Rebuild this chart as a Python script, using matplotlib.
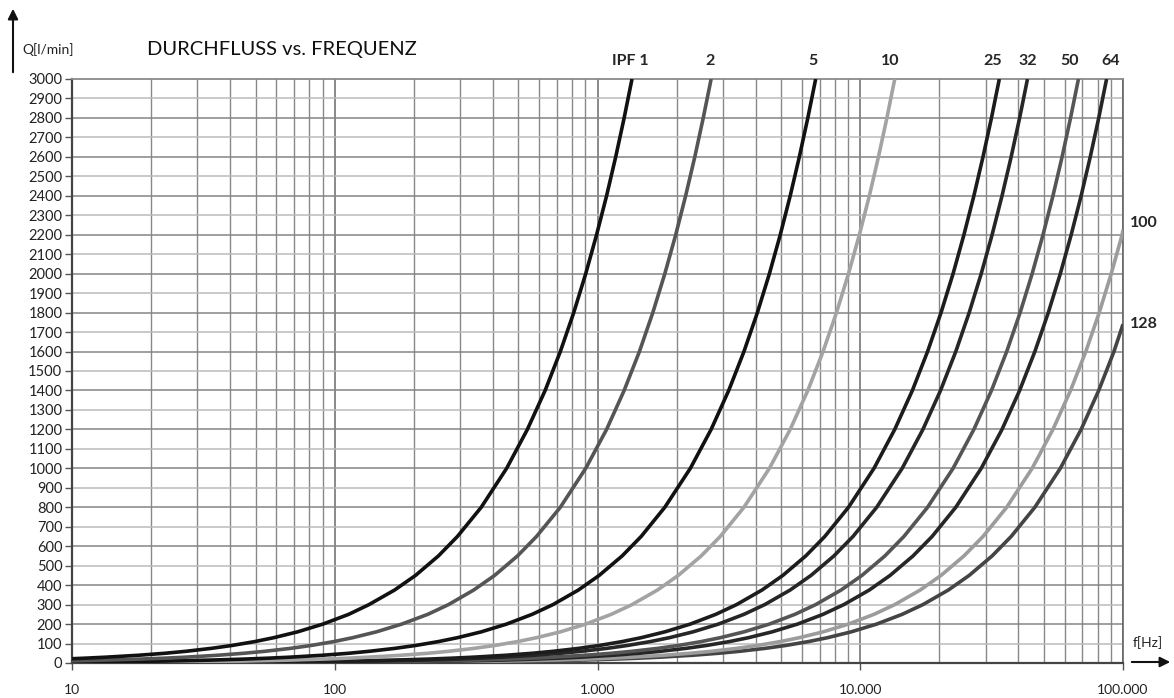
import matplotlib
matplotlib.use('Agg')
import matplotlib.pyplot as plt
from matplotlib.patches import FancyArrowPatch
from matplotlib.ticker import FixedLocator, NullFormatter

plt.rcParams['font.family'] = ['Lato', 'DejaVu Sans']

# flow levels [l/min] at which the crossing frequency of each curve was read
Q_LEVELS = [5, 10, 15, 20, 25, 30, 40, 50, 60, 75, 90, 110, 130, 160, 200, 250,
            300, 375, 450, 550, 650, 800, 1000, 1200, 1400, 1600, 1800, 2000,
            2200, 2400, 2600, 2800, 3000]

# crossing frequencies [Hz] per curve, None = level not reached inside the chart
f_ipf1 = [None, None, None, None, 11.3, 13.5, 18.0, 22.6, 27.1, 33.8, 40.6, 49.6,
          58.6, 72.2, 90.2, 113, 135, 169, 203, 248, 293, 361, 451, 541, 632, 722,
          812, 902, 992, 1083, 1173, 1263, 1353]
f_ipf2 = [None, None, 13.5, 18.0, 22.6, 27.1, 36.1, 45.1, 54.1, 67.7, 81.2, 99.2,
          117, 144, 180, 226, 271, 338, 406, 496, 586, 722, 902, 1083, 1263, 1444,
          1624, 1804, 1985, 2165, 2346, 2526, 2707]
f_ipf5 = [11.3, 22.6, 33.8, 45.1, 56.4, 67.7, 90.2, 113, 135, 169, 203, 248, 293,
          361, 451, 564, 677, 846, 1015, 1241, 1466, 1804, 2256, 2707, 3158, 3609,
          4060, 4511, 4962, 5413, 5864, 6316, 6767]
f_ipf10 = [22.6, 45.1, 67.7, 90.2, 113, 135, 180, 226, 271, 338, 406, 496, 586,
           722, 902, 1128, 1353, 1692, 2030, 2481, 2932, 3609, 4511, 5413, 6316,
           7218, 8120, 9022, 9924, 10830, 11730, 12630, 13530]
f_ipf25 = [56.4, 113, 169, 226, 282, 338, 451, 564, 677, 846, 1015, 1241, 1466,
           1804, 2256, 2820, 3383, 4229, 5075, 6203, 7330, 9022, 11280, 13530,
           15790, 18040, 20300, 22560, 24810, 27070, 29320, 31580, 33830]
f_ipf32 = [72.2, 144, 217, 289, 361, 433, 577, 722, 866, 1083, 1299, 1588, 1877,
           2310, 2887, 3609, 4331, 5413, 6496, 7939, 9383, 11550, 14440, 17320,
           20210, 23100, 25980, 28870, 31760, 34640, 37530, 40420, 43300]
f_ipf50 = [113, 226, 338, 451, 564, 677, 902, 1128, 1353, 1692, 2030, 2481, 2932,
           3609, 4511, 5639, 6767, 8458, 10150, 12410, 14660, 18040, 22560, 27070,
           31580, 36090, 40600, 45110, 49620, 54130, 58640, 63150, 67670]
f_ipf64 = [144, 289, 433, 577, 722, 866, 1155, 1444, 1732, 2165, 2598, 3176, 3753,
           4619, 5774, 7218, 8661, 10830, 12990, 15880, 18770, 23100, 28870, 34640,
           40420, 46190, 51970, 57740, 63510, 69290, 75060, 80840, 86610]
f_ipf100 = [226, 451, 677, 902, 1128, 1353, 1804, 2256, 2707, 3383, 4060, 4962,
            5864, 7218, 9022, 11280, 13530, 16920, 20300, 24810, 29320, 36090,
            45110, 54130, 63150, 72180, 81200, 90220, 99240, None, None, None, None]
f_ipf128 = [289, 577, 866, 1155, 1444, 1732, 2310, 2887, 3464, 4331, 5197, 6351,
            7506, 9238, 11550, 14440, 17320, 21650, 25980, 31760, 37530, 46190,
            57740, 69290, 80840, 92380, None, None, None, None, None, None, None]

# flow at the left edge (10 Hz) and at the right edge (100 kHz)
q_at_10hz = [22, 11, 4.4, 2.2, 0.9, 0.7, 0.45, 0.35, 0.22, 0.17]
q_at_100khz = [None, None, None, None, None, None, None, None, 2225, 1740]

curve_names = ['IPF 1', '2', '5', '10', '25', '32', '50', '64', '100', '128']
crossings = [f_ipf1, f_ipf2, f_ipf5, f_ipf10, f_ipf25, f_ipf32,
             f_ipf50, f_ipf64, f_ipf100, f_ipf128]
colors = ['#111111', '#555555', '#111111', '#a3a3a3', '#1c1c1c', '#262626',
          '#555555', '#262626', '#9c9c9c', '#444444']

W, H = 1174, 698
fig = plt.figure(figsize=(W / 100, H / 100), dpi=100)
ax = fig.add_axes([72 / W, 1 - 663 / H, (1123 - 72) / W, (663 - 79) / H])


def px(x, y):
    return (x / W, 1 - y / H)


ax.set_xscale('log')
ax.set_xlim(10, 100000)
ax.set_ylim(0, 3000)

# horizontal grid, every other line a bit darker
for q in range(100, 3000, 100):
    c = '#858585' if (q // 100) % 2 == 0 else '#bababa'
    ax.axhline(q, color=c, lw=1.1, zorder=1)

ax.xaxis.set_major_locator(FixedLocator([10, 100, 1000, 10000, 100000]))
ax.xaxis.set_minor_locator(FixedLocator([m * d for d in [10, 100, 1000, 10000] for m in range(2, 10)]))
ax.xaxis.set_minor_formatter(NullFormatter())
ax.grid(True, which='major', axis='x', color='#6a6a6a', lw=1.1, zorder=1)
ax.grid(True, which='minor', axis='x', color='#888888', lw=1.0, zorder=1)
ax.set_axisbelow(True)

ax.set_xticks([10, 100, 1000, 10000, 100000])
ax.set_xticklabels(['10', '100', '1.000', '10.000', '100.000'])
ax.set_yticks(range(0, 3001, 100))
ax.set_yticklabels([str(v) for v in range(0, 3001, 100)])
ax.tick_params(axis='y', labelsize=10.5, length=5, width=1, color='#555555', pad=2, colors='#222222')
ax.tick_params(axis='x', which='major', labelsize=10, length=5, width=1, color='#555555', pad=10, colors='#222222')
ax.tick_params(axis='x', which='minor', length=0)

for s in ['left', 'bottom']:
    ax.spines[s].set_color('#444444')
    ax.spines[s].set_linewidth(1.6)
ax.spines['top'].set_color('#8a8a8a')
ax.spines['top'].set_linewidth(1.3)
ax.spines['right'].set_color('#666666')
ax.spines['right'].set_linewidth(1.2)

# curves, the lower numbers drawn on top
for i in reversed(range(len(curve_names))):
    fs = [10]
    qs = [q_at_10hz[i]]
    for f, q in zip(crossings[i], Q_LEVELS):
        if f is not None and f > 10:
            fs.append(f)
            qs.append(q)
    if q_at_100khz[i] is not None:
        fs.append(100000)
        qs.append(q_at_100khz[i])
    ax.plot(fs, qs, color=colors[i], lw=2.6, solid_capstyle='butt',
            solid_joinstyle='round', zorder=3 + (10 - i))

# curve names above the chart and at the right edge
top_label_x = [630, 710, 813, 890, 993, 1028, 1070, 1111]
for name, x in zip(curve_names[:8], top_label_x):
    fig.text(*px(x, 61), name, ha='center', va='center', fontsize=11.5,
             fontweight='bold', color='#262626')
fig.text(*px(1130, 223), '100', ha='left', va='center', fontsize=11.5, fontweight='bold', color='#262626')
fig.text(*px(1130, 324), '128', ha='left', va='center', fontsize=11.5, fontweight='bold', color='#262626')

fig.text(*px(147, 50), 'DURCHFLUSS vs. FREQUENZ', ha='left', va='center', fontsize=14.5, color='#111111')
fig.text(*px(22, 50), 'Q[l/min]', ha='left', va='center', fontsize=10, color='#222222')
fig.text(*px(1148, 643), 'f[Hz]', ha='center', va='center', fontsize=10, color='#222222')

# axis arrows
fig.add_artist(FancyArrowPatch(px(13, 75), px(13, 6), transform=fig.transFigure,
                               arrowstyle='-|>,head_length=6,head_width=3',
                               color='#111111', lw=1.5))
fig.add_artist(FancyArrowPatch(px(1129, 662), px(1173, 662), transform=fig.transFigure,
                               arrowstyle='-|>,head_length=6,head_width=3',
                               color='#111111', lw=1.5))

fig.savefig('out.png', dpi=100)
